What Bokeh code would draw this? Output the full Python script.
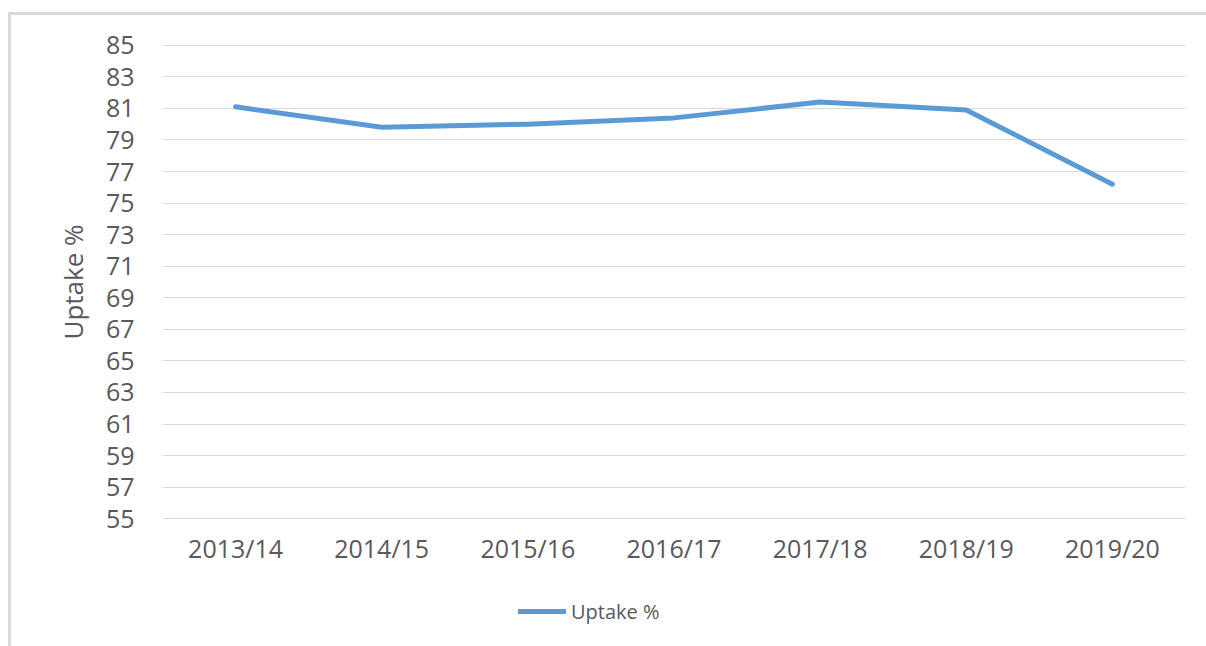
from bokeh.plotting import figure
from bokeh.layouts import column
from bokeh.models import FactorRange, Range1d, FixedTicker, Legend, LegendItem
from bokeh.embed import file_html
from bokeh.resources import INLINE

years = ["2013/14", "2014/15", "2015/16", "2016/17", "2017/18", "2018/19", "2019/20"]
uptake = [81.1, 79.8, 80.0, 80.4, 81.4, 80.9, 76.2]
y_ticks = list(range(55, 86, 2))
series_name = "Uptake %"

FONT = "Open Sans"
TXT = "#595959"
GRID = "#d9d9d9"
BLUE = "#5b9bd5"
LINE_STYLE = dict(line_color=BLUE, line_width=5, line_cap="round", line_join="round")

# main chart
p = figure(width=1195, height=564, x_range=FactorRange(*years, range_padding=0),
           y_range=Range1d(54.95, 85.05), output_backend="svg", toolbar_location=None,
           min_border_left=151, min_border_right=21, min_border_top=29,
           min_border_bottom=60)
p.outline_line_color = None
p.background_fill_color = "white"
p.border_fill_color = "white"

r = p.line(x=years, y=uptake, **LINE_STYLE)

p.yaxis.ticker = FixedTicker(ticks=y_ticks)
for ax in (p.xaxis[0], p.yaxis[0]):
    ax.axis_line_color = None
    ax.major_tick_line_color = None
    ax.minor_tick_line_color = None
    ax.major_tick_out = 0
    ax.major_tick_in = 0
    ax.major_label_text_font = FONT
    ax.major_label_text_font_size = "25px"
    ax.major_label_text_color = TXT
p.yaxis.major_label_standoff = 28
p.xaxis.major_label_standoff = 11
p.yaxis.axis_label = series_name
p.yaxis.axis_label_text_font = FONT
p.yaxis.axis_label_text_font_size = "26px"
p.yaxis.axis_label_text_font_style = "normal"
p.yaxis.axis_label_text_color = TXT
p.yaxis.axis_label_standoff = 12

p.xgrid.grid_line_color = None
p.ygrid.grid_line_color = GRID
p.ygrid.grid_line_width = 1

# legend strip below the chart
pl = figure(width=1195, height=67, x_range=Range1d(0, 1), y_range=Range1d(0, 1),
            x_axis_location=None, y_axis_location=None,
            output_backend="svg", toolbar_location=None,
            min_border_left=0, min_border_right=0, min_border_top=0, min_border_bottom=0)
pl.grid.visible = False
pl.outline_line_color = None
pl.background_fill_color = "white"
pl.border_fill_color = "white"
key = pl.line(x=[float("nan")], y=[float("nan")], **LINE_STYLE)

legend = Legend(items=[LegendItem(label=series_name, renderers=[key])],
                location=(356, 21), orientation="horizontal",
                glyph_width=48, glyph_height=28, label_height=28,
                label_standoff=5, padding=0, margin=0, spacing=0,
                border_line_color=None, background_fill_alpha=0,
                label_text_font=FONT, label_text_font_size="20px",
                label_text_color=TXT)
pl.add_layout(legend, "center")

layout = column(p, pl, spacing=0)
layout.styles = {"margin-left": "8px", "margin-top": "12px",
                 "border-left": "3px solid #d9d9d9", "border-top": "3px solid #d9d9d9"}

open("out.html", "w").write(file_html(layout, INLINE))
